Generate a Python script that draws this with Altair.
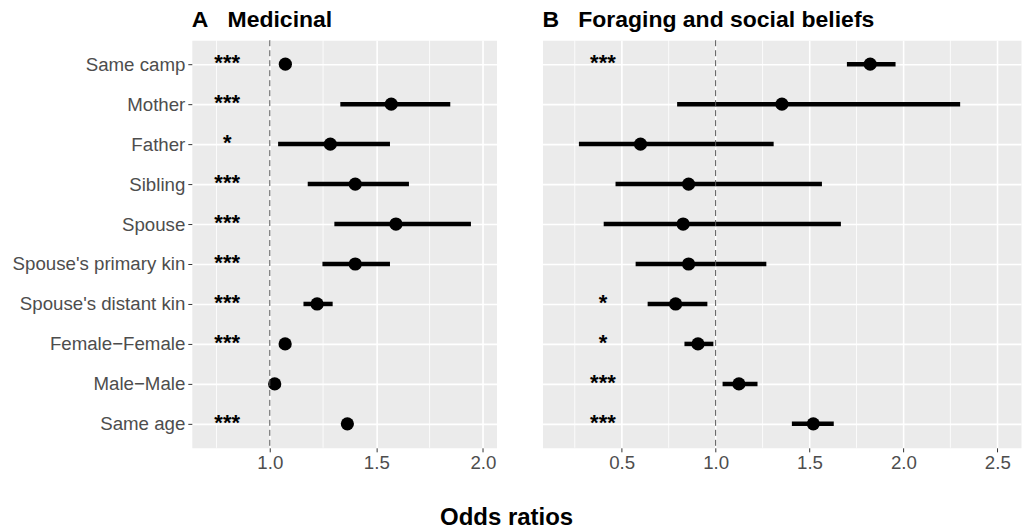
import altair as alt
import pandas as pd

categories = ["Same camp", "Mother", "Father", "Sibling", "Spouse",
              "Spouse's primary kin", "Spouse's distant kin",
              "Female\u2212Female", "Male\u2212Male", "Same age"]

# Panel A: Medicinal
med_or = [1.073, 1.570, 1.284, 1.401, 1.592, 1.401, 1.222, 1.072, 1.023, 1.364]
med_lo = [1.055, 1.331, 1.039, 1.178, 1.303, 1.247, 1.158, 1.055, 1.005, 1.345]
med_hi = [1.090, 1.847, 1.564, 1.653, 1.944, 1.564, 1.295, 1.090, 1.040, 1.383]
med_sig = ["***", "***", "*", "***", "***", "***", "***", "***", "", "***"]

# Panel B: Foraging and social beliefs
for_or = [1.823, 1.353, 0.600, 0.856, 0.827, 0.856, 0.787, 0.906, 1.124, 1.520]
for_lo = [1.699, 0.795, 0.272, 0.467, 0.404, 0.574, 0.638, 0.834, 1.037, 1.406]
for_hi = [1.958, 2.302, 1.309, 1.566, 1.667, 1.270, 0.956, 0.988, 1.223, 1.629]
for_sig = ["***", "", "", "", "", "", "*", "*", "***", "***"]

med_major = [1.0, 1.5, 2.0]
med_minor = [0.75, 1.25, 1.75]
for_major = [0.5, 1.0, 1.5, 2.0, 2.5]
for_minor = [0.25, 0.75, 1.25, 1.75, 2.25]

FONT = "Liberation Sans"


def panel(title, ors, los, his, sigs, domain, major, minor, star_x, width, show_y):
    df = pd.DataFrame({"cat": categories, "or": ors, "lo": los, "hi": his, "sig": sigs})
    yscale = alt.Scale(type="point", padding=0.6, domain=categories)
    xscale = alt.Scale(domain=domain, nice=False, zero=False)
    if show_y:
        yaxis = alt.Axis(title=None, grid=True, domain=False, ticks=True, labels=True,
                         labelPadding=3)
    else:
        yaxis = alt.Axis(title=None, grid=True, domain=False, ticks=False, labels=False)
    xaxis = alt.Axis(title=None, values=major, format=".1f", grid=True, domain=False)

    base = alt.Chart(df)
    minor_layer = alt.Chart(pd.DataFrame({"v": minor})).mark_rule(
        color="white", strokeWidth=0.8
    ).encode(x=alt.X("v:Q", scale=xscale, axis=xaxis))
    ci = base.mark_rule(color="black", strokeWidth=4.5).encode(
        x=alt.X("lo:Q", scale=xscale, axis=xaxis),
        x2="hi:Q",
        y=alt.Y("cat:N", scale=yscale, axis=yaxis, sort=categories),
    )
    pts = base.mark_circle(color="black", opacity=1, size=175).encode(
        x=alt.X("or:Q", scale=xscale, axis=xaxis),
        y=alt.Y("cat:N", scale=yscale, axis=yaxis, sort=categories),
    )
    stars = base.mark_text(fontSize=22, fontWeight="bold", font=FONT, color="black",
                           baseline="middle", align="center", dy=-1).encode(
        x=alt.datum(star_x, scale=xscale),
        y=alt.Y("cat:N", scale=yscale, axis=yaxis, sort=categories),
        text="sig:N",
    )
    ref = alt.Chart(pd.DataFrame({"ref": [1.0]})).mark_rule(
        color="#555555", strokeDash=[6, 4], strokeWidth=1
    ).encode(x=alt.X("ref:Q", scale=xscale, axis=xaxis))

    return alt.layer(minor_layer, ci, pts, stars, ref).properties(
        width=width, height=408,
        title=alt.TitleParams(text=title, anchor="start", frame="group", fontSize=23,
                              fontWeight="bold", font=FONT, color="black", offset=8),
    )


left = panel("A\u00a0\u00a0\u00a0Medicinal", med_or, med_lo, med_hi, med_sig,
             [0.634, 2.064], med_major, med_minor, 0.8, 305, True)
right = panel("B\u00a0\u00a0\u00a0Foraging and social beliefs", for_or, for_lo, for_hi, for_sig,
              [0.078, 2.626], for_major, for_minor, 0.4, 479, False)

chart = alt.hconcat(left, right, spacing=44).properties(
    title=alt.TitleParams(text="Odds ratios", orient="bottom", anchor="middle",
                          fontSize=24, fontWeight="bold", font=FONT, color="black",
                          offset=33, dx=-10),
    padding={"left": 11, "top": 8, "right": 1, "bottom": 0},
).configure_view(fill="#EBEBEB", stroke="transparent").configure_axis(
    labelFont=FONT, labelFontSize=18.7, labelColor="#4D4D4D",
    tickColor="#333333", tickSize=4, tickWidth=1,
    gridColor="white", gridWidth=1.6, labelPadding=2,
)

chart.save("out.html", embed_options={"renderer": "svg", "actions": False})
